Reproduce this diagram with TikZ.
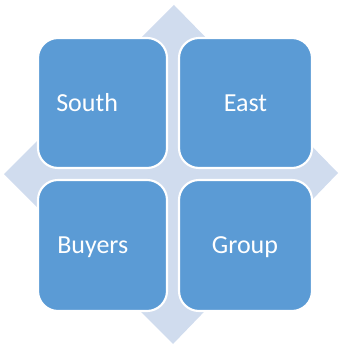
\documentclass[tikz,border=0pt]{standalone}
\usepackage{fontspec}
\setmainfont{Carlito}
\definecolor{boxblue}{RGB}{91,155,213}
\definecolor{diamondblue}{RGB}{208,220,238}
\begin{document}
\begin{tikzpicture}[x=0.75pt,y=-0.75pt,
  quad/.style={fill=boxblue,draw=white,line width=1.6pt,rounded corners=15pt},
  lbl/.style={text=white,font=\fontsize{19.5pt}{22pt}\selectfont,inner sep=0pt}]
\useasboundingbox (0,0) rectangle (339,348);
\clip (0,0) rectangle (339,348);
\fill[diamondblue] (174,5) -- (338,173) -- (173,344) -- (4,174) -- cycle;
\draw[quad] (38,38) rectangle (167,168);
\draw[quad] (179,38) rectangle (312,168);
\draw[quad] (38,180) rectangle (167,311);
\draw[quad] (179,180) rectangle (312,311);
\node[lbl,anchor=base west] (s) at (56,111.5) {South};
\node[lbl,anchor=base] (e) at (245.5,111.5) {East};
\node[lbl,anchor=base west] (b) at (57,253) {Buyers};
\node[lbl,anchor=base] (g) at (245,253) {Group};
\end{tikzpicture}
\end{document}
